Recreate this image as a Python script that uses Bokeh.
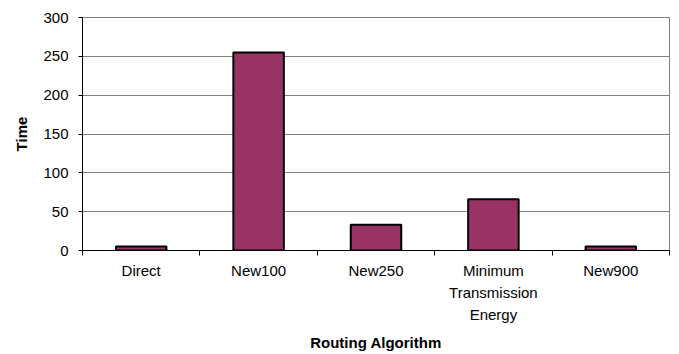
from bokeh.plotting import figure
from bokeh.models import FixedTicker, Range1d
from bokeh.embed import file_html
from bokeh.resources import INLINE

# Routing algorithms and the time each one achieved
categories = ["Direct", "New100", "New250", "Minimum\nTransmission\nEnergy", "New900"]
times = [5, 255, 33, 66, 5]
y_ticks = [0, 50, 100, 150, 200, 250, 300]

positions = list(range(1, len(categories) + 1))
boundaries = [p - 0.5 for p in positions] + [positions[-1] + 0.5]

p = figure(
    width=679, height=354,
    x_range=Range1d(0.5, len(categories) + 0.5),
    y_range=Range1d(0, 300),
    output_backend="svg", toolbar_location=None,
    min_border_left=82, min_border_right=10,
    min_border_top=17, min_border_bottom=104,
)

p.vbar(x=positions, top=times, width=0.43,
       fill_color="#993366", line_color="black", line_width=2)

font = "Liberation Sans"

# x axis: labels under each bar, ticks between categories
xa = p.xaxis[0]
xa.ticker = FixedTicker(ticks=positions, minor_ticks=boundaries)
xa.major_label_overrides = {pos: lab for pos, lab in zip(positions, categories)}
xa.major_tick_out = 0
xa.major_tick_in = 0
xa.minor_tick_out = 5
xa.minor_tick_in = 0
xa.minor_tick_line_color = "black"
xa.axis_line_color = "black"
xa.major_label_text_font = font
xa.major_label_text_font_size = "15px"
xa.major_label_text_color = "black"
xa.major_label_text_line_height = 1.3
xa.major_label_standoff = 6
xa.axis_label = "Routing Algorithm"
xa.axis_label_text_font = font
xa.axis_label_text_font_size = "15px"
xa.axis_label_text_font_style = "bold"
xa.axis_label_text_color = "black"
xa.axis_label_standoff = 8

ya = p.yaxis[0]
ya.ticker = FixedTicker(ticks=y_ticks, minor_ticks=[])
ya.major_tick_out = 4
ya.major_tick_in = 0
ya.axis_line_color = "black"
ya.major_label_text_font = font
ya.major_label_text_font_size = "15px"
ya.major_label_text_color = "black"
ya.major_label_standoff = 10
ya.axis_label = "Time"
ya.axis_label_text_font = font
ya.axis_label_text_font_size = "15px"
ya.axis_label_text_font_style = "bold"
ya.axis_label_text_color = "black"
ya.axis_label_standoff = 10

p.xgrid.visible = False
p.ygrid.grid_line_color = "#808080"
p.ygrid.grid_line_width = 1
p.outline_line_color = "#808080"
p.outline_line_width = 1
p.background_fill_color = "white"
p.border_fill_color = "white"

open("out.html", "w").write(file_html(p, INLINE))
